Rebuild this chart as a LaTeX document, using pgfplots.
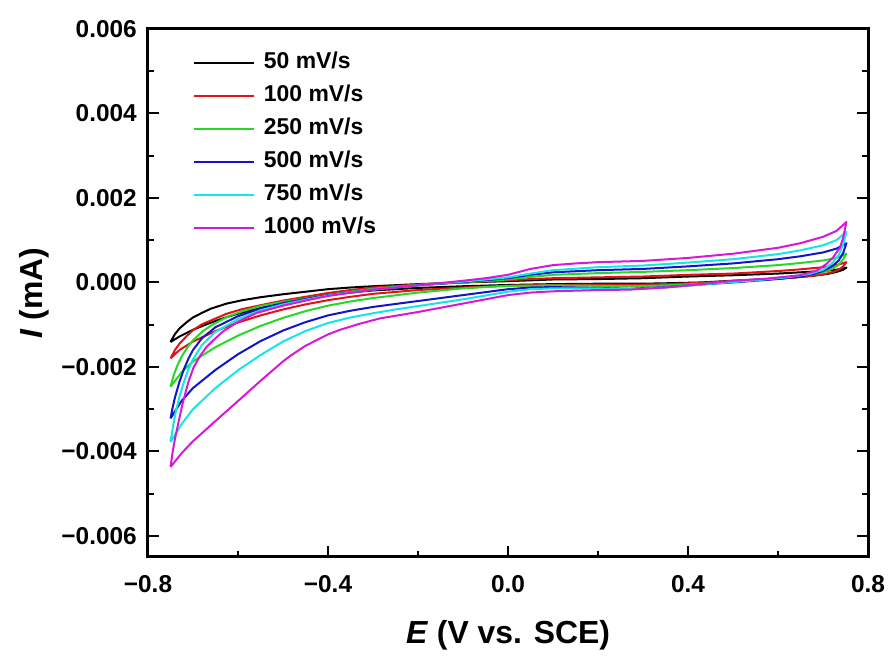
\documentclass[border=0pt]{standalone}
\usepackage{fontspec}
\setmainfont{Liberation Sans}
\usepackage{pgfplots}
\pgfplotsset{compat=1.18}
\usepackage{pgfplotstable}

\definecolor{cvred}{RGB}{225,20,20}
\definecolor{cvgreen}{RGB}{40,215,40}
\definecolor{cvblue}{RGB}{20,20,200}
\definecolor{cvcyan}{RGB}{20,230,230}
\definecolor{cvmag}{RGB}{215,25,215}

% current in units of 1e-3 mA
\pgfplotstableread{
E I
-0.75 -1.41
-0.74 -1.22
-0.73 -1.09
-0.715 -0.95
-0.70 -0.83
-0.68 -0.72
-0.66 -0.62
-0.625 -0.50
-0.59 -0.42
-0.55 -0.35
-0.5 -0.28
-0.45 -0.22
-0.4 -0.16
-0.35 -0.12
-0.3 -0.09
-0.2 -0.04
-0.1 0.0
0 0.03
0.05 0.05
0.1 0.07
0.2 0.08
0.3 0.10
0.4 0.14
0.5 0.17
0.6 0.21
0.65 0.24
0.7 0.27
0.73 0.30
0.752 0.35
0.745 0.30
0.73 0.25
0.71 0.20
0.68 0.16
0.64 0.12
0.6 0.09
0.5 0.04
0.43 0.0
0.35 -0.02
0.3 -0.03
0.2 -0.03
0.1 -0.04
0 -0.06
-0.1 -0.09
-0.2 -0.13
-0.3 -0.19
-0.37 -0.26
-0.4 -0.30
-0.45 -0.38
-0.5 -0.48
-0.55 -0.60
-0.6 -0.74
-0.625 -0.82
-0.66 -0.95
-0.7 -1.12
-0.73 -1.28
-0.75 -1.41
}\blackdata

\pgfplotstableread{
E I
-0.75 -1.80
-0.74 -1.60
-0.73 -1.45
-0.715 -1.28
-0.70 -1.13
-0.68 -0.99
-0.66 -0.90
-0.625 -0.74
-0.59 -0.63
-0.55 -0.54
-0.5 -0.43
-0.45 -0.34
-0.4 -0.25
-0.35 -0.18
-0.3 -0.12
-0.2 -0.05
-0.1 0.0
0 0.05
0.05 0.08
0.1 0.10
0.2 0.12
0.3 0.14
0.4 0.18
0.5 0.21
0.6 0.27
0.65 0.31
0.7 0.36
0.73 0.41
0.752 0.48
0.745 0.38
0.735 0.30
0.72 0.24
0.7 0.19
0.67 0.15
0.6 0.09
0.5 0.03
0.43 -0.01
0.35 -0.04
0.3 -0.05
0.2 -0.05
0.1 -0.06
0 -0.08
-0.1 -0.12
-0.2 -0.18
-0.3 -0.27
-0.35 -0.34
-0.4 -0.42
-0.45 -0.52
-0.5 -0.64
-0.55 -0.78
-0.6 -0.95
-0.65 -1.15
-0.7 -1.40
-0.73 -1.60
-0.75 -1.80
}\reddata

\pgfplotstableread{
E I
-0.75 -2.47
-0.743 -2.20
-0.736 -2.00
-0.725 -1.75
-0.71 -1.50
-0.70 -1.37
-0.68 -1.17
-0.66 -1.02
-0.625 -0.82
-0.59 -0.68
-0.55 -0.56
-0.5 -0.46
-0.45 -0.38
-0.4 -0.30
-0.35 -0.22
-0.3 -0.15
-0.2 -0.06
-0.1 0.0
0 0.07
0.05 0.13
0.1 0.18
0.2 0.22
0.3 0.25
0.4 0.29
0.5 0.34
0.6 0.41
0.65 0.46
0.7 0.52
0.73 0.58
0.752 0.68
0.745 0.55
0.735 0.42
0.72 0.32
0.7 0.24
0.67 0.18
0.62 0.12
0.55 0.06
0.5 0.02
0.43 -0.03
0.35 -0.07
0.27 -0.09
0.2 -0.08
0.1 -0.07
0 -0.08
-0.1 -0.14
-0.2 -0.24
-0.3 -0.37
-0.35 -0.45
-0.4 -0.55
-0.45 -0.68
-0.5 -0.84
-0.55 -1.03
-0.6 -1.26
-0.65 -1.53
-0.7 -1.87
-0.725 -2.12
-0.75 -2.47
}\greendata

\pgfplotstableread{
E I
-0.75 -3.22
-0.745 -2.95
-0.74 -2.72
-0.73 -2.35
-0.72 -2.05
-0.71 -1.80
-0.70 -1.60
-0.68 -1.32
-0.65 -1.06
-0.6 -0.80
-0.55 -0.62
-0.5 -0.49
-0.45 -0.39
-0.4 -0.30
-0.3 -0.17
-0.2 -0.07
-0.1 0.01
0 0.10
0.05 0.18
0.1 0.24
0.2 0.29
0.3 0.32
0.4 0.38
0.5 0.45
0.6 0.55
0.65 0.62
0.7 0.71
0.73 0.80
0.752 0.93
0.745 0.70
0.735 0.52
0.72 0.38
0.7 0.27
0.68 0.20
0.65 0.14
0.6 0.08
0.5 0.0
0.43 -0.05
0.35 -0.11
0.27 -0.15
0.2 -0.13
0.1 -0.11
0.05 -0.12
0 -0.16
-0.05 -0.23
-0.1 -0.30
-0.15 -0.37
-0.2 -0.44
-0.25 -0.51
-0.3 -0.58
-0.35 -0.67
-0.4 -0.78
-0.45 -0.94
-0.5 -1.14
-0.55 -1.39
-0.6 -1.70
-0.65 -2.07
-0.7 -2.50
-0.725 -2.80
-0.75 -3.22
}\bluedata

\pgfplotstableread{
E I
-0.75 -3.78
-0.745 -3.45
-0.74 -3.15
-0.73 -2.70
-0.72 -2.35
-0.71 -2.05
-0.70 -1.82
-0.68 -1.48
-0.65 -1.17
-0.6 -0.87
-0.55 -0.66
-0.5 -0.52
-0.45 -0.41
-0.4 -0.31
-0.3 -0.17
-0.2 -0.07
-0.1 0.02
0 0.12
0.05 0.21
0.1 0.29
0.2 0.36
0.3 0.40
0.4 0.47
0.5 0.55
0.6 0.67
0.65 0.76
0.7 0.88
0.73 1.00
0.752 1.20
0.745 0.90
0.735 0.65
0.72 0.45
0.7 0.30
0.67 0.20
0.62 0.12
0.55 0.05
0.5 0.01
0.43 -0.05
0.35 -0.12
0.27 -0.16
0.2 -0.14
0.1 -0.14
0.05 -0.16
0 -0.22
-0.05 -0.31
-0.1 -0.40
-0.15 -0.48
-0.2 -0.56
-0.25 -0.64
-0.3 -0.73
-0.35 -0.83
-0.4 -0.96
-0.45 -1.15
-0.5 -1.40
-0.55 -1.72
-0.6 -2.08
-0.65 -2.50
-0.7 -3.00
-0.725 -3.35
-0.75 -3.78
}\cyandata

\pgfplotstableread{
E I
-0.75 -4.37
-0.745 -4.00
-0.74 -3.70
-0.736 -3.50
-0.729 -3.15
-0.722 -2.82
-0.71 -2.35
-0.699 -2.02
-0.685 -1.75
-0.67 -1.53
-0.65 -1.32
-0.633 -1.16
-0.6 -0.93
-0.558 -0.72
-0.5 -0.55
-0.45 -0.43
-0.4 -0.32
-0.3 -0.17
-0.2 -0.07
-0.1 0.04
-0.05 0.10
0 0.18
0.05 0.32
0.1 0.41
0.15 0.45
0.2 0.48
0.3 0.51
0.4 0.58
0.5 0.68
0.6 0.82
0.65 0.93
0.7 1.08
0.73 1.22
0.752 1.43
0.745 1.07
0.738 0.83
0.723 0.60
0.708 0.44
0.686 0.28
0.649 0.17
0.575 0.09
0.5 0.04
0.43 -0.04
0.35 -0.12
0.27 -0.17
0.2 -0.18
0.1 -0.21
0.05 -0.24
0 -0.30
-0.05 -0.40
-0.1 -0.50
-0.15 -0.60
-0.2 -0.70
-0.25 -0.79
-0.284 -0.85
-0.33 -0.98
-0.373 -1.12
-0.4 -1.23
-0.45 -1.50
-0.484 -1.74
-0.5 -1.87
-0.55 -2.33
-0.596 -2.77
-0.65 -3.28
-0.7 -3.76
-0.725 -4.04
-0.75 -4.37
}\magdata

\begin{document}
\begin{tikzpicture}
\begin{axis}[
  name=ax,
  scale only axis,
  width=720bp, height=528bp,
  xmin=-0.8, xmax=0.8, ymin=-6.5, ymax=6,
  xtick={-0.8,-0.4,0,0.4,0.8},
  xticklabels={−0.8,−0.4,0.0,0.4,0.8},
  ytick={-6,-4,-2,0,2,4,6},
  yticklabels={−0.006,−0.004,−0.002,0.000,0.002,0.004,0.006},
  minor x tick num=1, minor y tick num=1,
  xtick pos=bottom, ytick pos=both, yticklabel pos=left,
  tick align=inside,
  major tick length=11bp, minor tick length=6bp,
  major tick style={line width=2bp, black},
  minor tick style={line width=2bp, black},
  axis line style={line width=3bp},
  xticklabel style={font=\fontsize{24.5}{29}\selectfont\bfseries, inner sep=0pt, anchor=north, yshift=-18bp},
  yticklabel style={font=\fontsize{24.5}{29}\selectfont\bfseries, inner sep=0pt, anchor=east, xshift=-11bp},
  xlabel={\textit{E} (V vs. SCE)},
  ylabel={\textit{I} (mA)},
  label style={font=\fontsize{32}{38}\selectfont\bfseries},
  xlabel style={at={(axis description cs:0.5,-0.1477)}, anchor=center},
  ylabel style={at={(axis description cs:-0.158,0.5)}, anchor=center},
  legend style={at={(axis description cs:0.0625,0.957)}, anchor=north west,
    draw=none, fill=none, inner sep=0pt, outer sep=0pt,
    font=\fontsize{23}{27}\selectfont\bfseries,
    row sep=11bp,
    nodes={inner sep=0pt, text height=17bp, text depth=5bp},
    /tikz/every odd column/.append style={column sep=9bp}},
  legend cell align=left,
  legend image code/.code={\draw[#1, line width=2bp] (0bp,0bp) -- (60bp,0bp);},
  every axis plot/.append style={line width=2bp, line join=round},
]
\addplot[black] table[x=E, y=I] {\blackdata};
\addlegendentry{50 mV/s}
\addplot[cvred] table[x=E, y=I] {\reddata};
\addlegendentry{100 mV/s}
\addplot[cvgreen] table[x=E, y=I] {\greendata};
\addlegendentry{250 mV/s}
\addplot[cvblue] table[x=E, y=I] {\bluedata};
\addlegendentry{500 mV/s}
\addplot[cvcyan] table[x=E, y=I] {\cyandata};
\addlegendentry{750 mV/s}
\addplot[cvmag] table[x=E, y=I] {\magdata};
\addlegendentry{1000 mV/s}
\end{axis}
\pgfresetboundingbox
\path ([shift={(-148bp,-100bp)}]ax.south west) rectangle ([shift={(25bp,29bp)}]ax.north east);
\end{tikzpicture}
\end{document}
